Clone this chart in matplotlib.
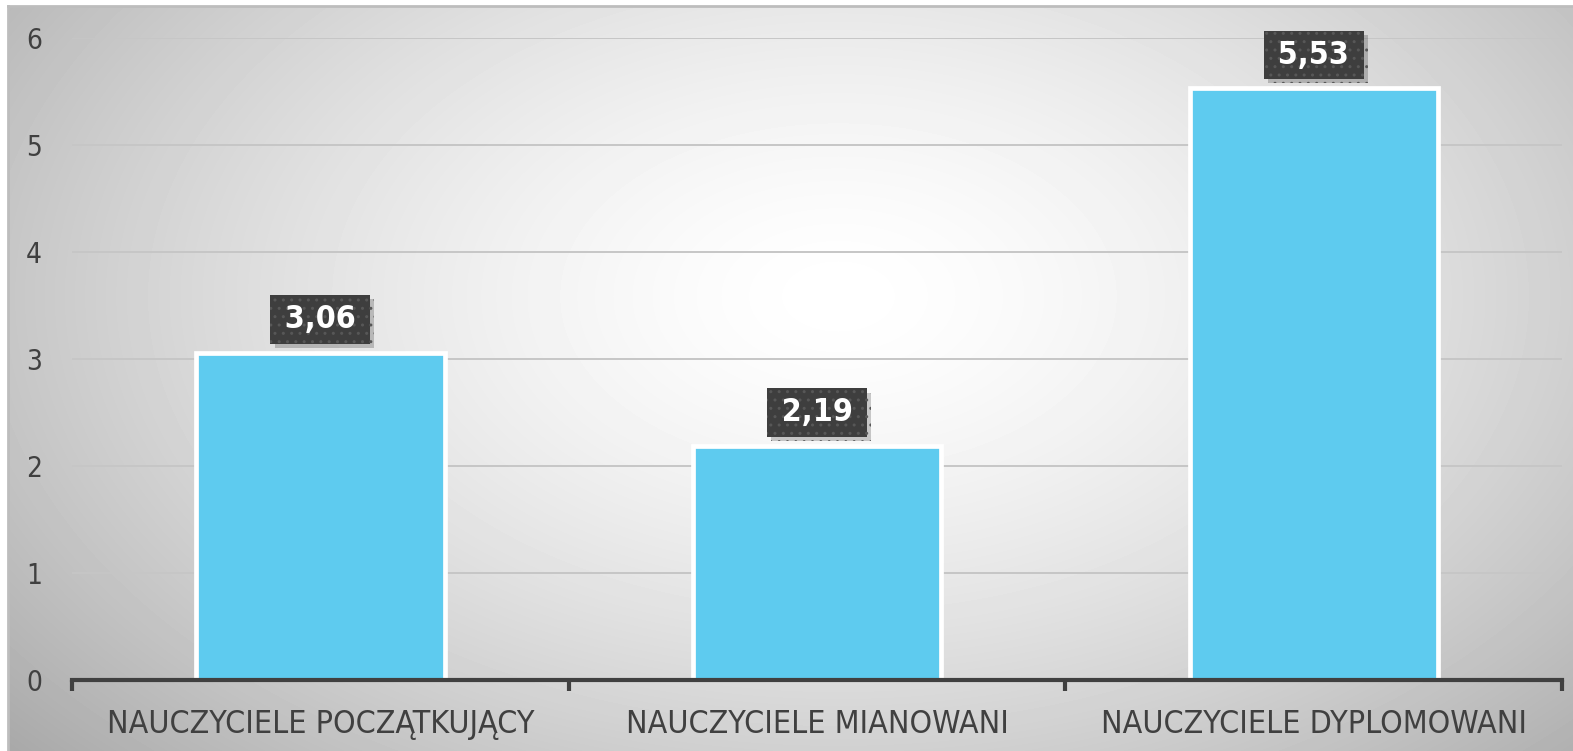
import matplotlib

matplotlib.use("Agg")
import matplotlib.pyplot as plt
import matplotlib.patheffects as pe
import numpy as np

# ---------------------------------------------------------------------------
# Data
# ---------------------------------------------------------------------------
CATEGORIES = [
    "NAUCZYCIELE POCZĄTKUJĄCY",
    "NAUCZYCIELE MIANOWANI",
    "NAUCZYCIELE DYPLOMOWANI",
]
VALUES = [3.06, 2.19, 5.53]
VALUE_LABELS = ["3,06", "2,19", "5,53"]
Y_TICKS = [0, 1, 2, 3, 4, 5, 6]

BAR_COLOR = "#5ecbef"
TEXT_COLOR = "#404040"

W, H = 1573, 751
fig = plt.figure(figsize=(W / 100, H / 100), dpi=100)
fig.patch.set_facecolor("white")

# ---- radial grey background ----
bg = fig.add_axes([8 / W, 0, 1 - 8 / W, 1 - 6 / H])
bg.set_axis_off()
yy, xx = np.mgrid[0:745, 0:1565]
cx, cy = 830, 290
r = np.sqrt(((xx - cx) / 900.0) ** 2 + ((yy - cy) / 560.0) ** 2)
v = 1.0 - 0.25 * np.clip(r, 0, 1.3) ** 1.5
bg.imshow(v, cmap="gray", vmin=0, vmax=1, aspect="auto",
          extent=[0, 1, 0, 1], interpolation="bilinear")
bg.plot([0, 0], [0, 1], color="#bdbdbd", lw=2, transform=bg.transAxes, clip_on=False)
bg.plot([0, 1], [1, 1], color="#bdbdbd", lw=2, transform=bg.transAxes, clip_on=False)

# ---- chart ----
ax = fig.add_axes([72 / W, (H - 680) / H, 1490 / W, 642 / H])
ax.patch.set_alpha(0)
x = np.arange(len(CATEGORIES))
ax.bar(x, VALUES, width=0.5, color=BAR_COLOR, edgecolor="white", linewidth=3.4, zorder=3)

ax.set_xlim(-0.5, len(CATEGORIES) - 0.5)
ax.set_ylim(0, 6)
ax.set_yticks(Y_TICKS)
ax.set_yticklabels([str(t) for t in Y_TICKS], fontsize=20, color=TEXT_COLOR,
                   family="DejaVu Sans", stretch="condensed", ha="left")
ax.tick_params(axis="y", length=0, pad=33)
ax.yaxis.grid(True, color="#c6c6c6", linewidth=1.4, zorder=0)
ax.set_axisbelow(True)

ax.set_xticks(x)
ax.set_xticklabels(CATEGORIES, fontsize=23, color=TEXT_COLOR,
                   family="DejaVu Sans", stretch="condensed")
ax.tick_params(axis="x", which="major", length=0, pad=21)
ax.set_xticks(np.arange(-0.5, len(CATEGORIES)), minor=True)
ax.tick_params(axis="x", which="minor", length=8, width=3, color="#404040", direction="out")

for side in ["left", "right", "top"]:
    ax.spines[side].set_visible(False)
ax.spines["bottom"].set_color("#404040")
ax.spines["bottom"].set_linewidth(3)
ax.spines["bottom"].set_zorder(4)

# ---- data labels ----
for xi, val, lab in zip(x, VALUES, VALUE_LABELS):
    t = ax.text(xi, val + 0.31, f"\u2009{lab}\u2009", ha="center", va="center", fontsize=23,
                fontweight="bold", color="white", zorder=5,
                family="DejaVu Sans", stretch="condensed",
                bbox=dict(boxstyle="square,pad=0.27", facecolor="#3e3e3e",
                          edgecolor="#575757", linewidth=0, hatch=".."))
    t.get_bbox_patch().set_path_effects(
        [pe.SimplePatchShadow(offset=(3, -3), shadow_rgbFace="black", alpha=0.2), pe.Normal()])

fig.savefig("out.png", dpi=100, facecolor="white")
